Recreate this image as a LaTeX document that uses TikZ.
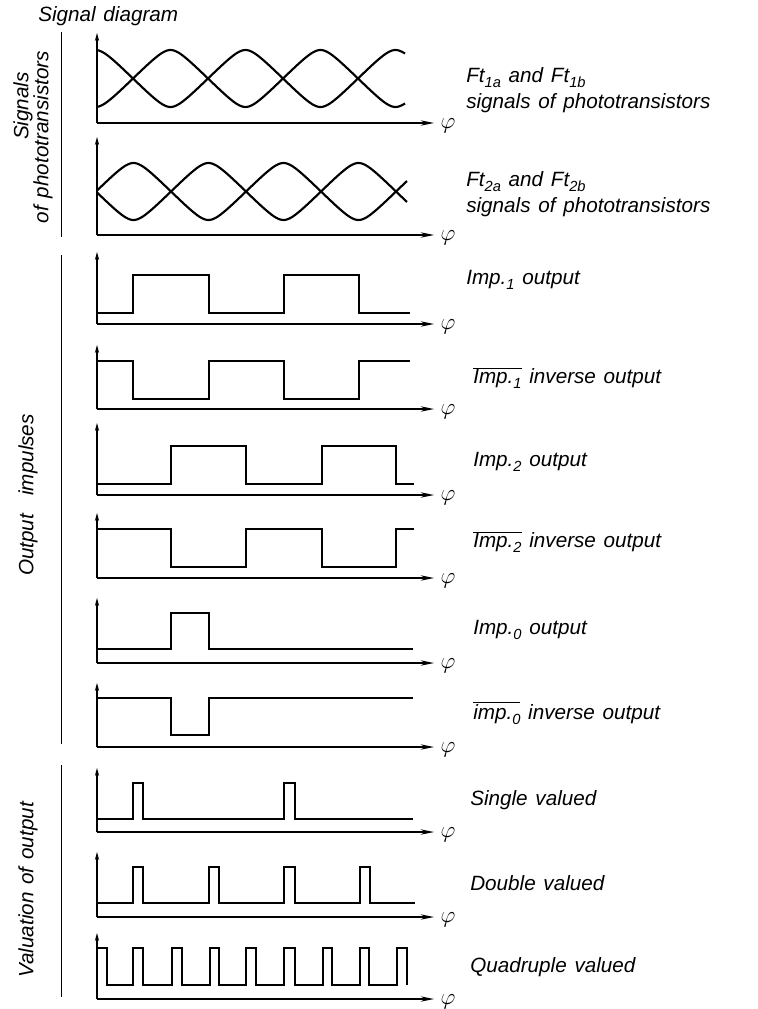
\documentclass[tikz,border=0pt]{standalone}
\usepackage{fontspec}
\setmainfont{Liberation Sans}[WordSpace=1.35]
\usetikzlibrary{arrows.meta}
\newcommand\lo[1]{\raisebox{-0.45ex}{\fontsize{11}{11}\selectfont #1}}
\newcommand\ovl[1]{\ensuremath{\overline{\mbox{#1}}}}
\begin{document}
\begin{tikzpicture}[x=0.75pt,y=-0.75pt,
  axisline/.style={line width=0.8pt},
  xax/.style={axisline,-{Stealth[length=10pt,width=4pt,open]}},
  yax/.style={axisline,-{Stealth[length=6pt,width=3.2pt]}},
  sig/.style={line width=1.6pt},
  bar/.style={line width=1.2pt},
  lbl/.style={anchor=west,inner sep=0pt,font=\fontsize{15.5}{18}\selectfont\itshape},
  vlbl/.style={rotate=90,inner sep=0pt,font=\fontsize{15.5}{18}\selectfont\itshape},
  philbl/.style={inner sep=0pt,font=\fontsize{17}{17}\selectfont}]
\useasboundingbox (0,0) rectangle (757,1009);
% title
\node[anchor=west,inner sep=0pt,font=\fontsize{15.5}{18}\selectfont\itshape] (title) at (38,16) {Signal diagram};
% section bars
\coordinate (b1t) at (61.5,32);  \coordinate (b1b) at (61.5,237);
\coordinate (b2t) at (61.5,255); \coordinate (b2b) at (61.5,744);
\coordinate (b3t) at (61.5,765); \coordinate (b3b) at (61.5,997);
\draw[bar] (b1t) -- (b1b);
\draw[bar] (b2t) -- (b2b);
\draw[bar] (b3t) -- (b3b);
\node[vlbl] (vsig) at (23,106) {Signals};
\node[vlbl] (vphot) at (43,137) {of phototransistors};
\node[vlbl] (vout) at (28,495) {Output\enspace\ impulses};
\node[vlbl] (vval) at (28,890) {Valuation of output};
% axes
\foreach \i/\ax/\at in {1/123/33,2/235/137,3/324/252,4/409/345,5/495/423,6/578/513,7/663/598,8/747/683,9/832/768,10/917/852,11/999/933}{
  \coordinate (o\i) at (97,\ax);
  \coordinate (xe\i) at (434,\ax);
  \coordinate (yt\i) at (97,\at);
  \draw[xax] (o\i) -- (xe\i);
  \draw[yax] (o\i) -- (yt\i);
  \node[philbl] (phi\i) at (448,\ax+3) {$\varphi$};
}
% phototransistor signals
\draw[sig] plot[domain=97:405,samples=200,smooth] (\x,{78.5-28.5*asin(0.9*cos(2.4*(\x-95.5)))/asin(0.9)});
\draw[sig] plot[domain=97:405,samples=200,smooth] (\x,{78.5+28.5*asin(0.9*cos(2.4*(\x-95.5)))/asin(0.9)});
\draw[sig] plot[domain=97:407,samples=200,smooth] (\x,{191.5-28.5*asin(0.9*cos(2.4*(\x-133.5)))/asin(0.9)});
\draw[sig] plot[domain=97:407,samples=200,smooth] (\x,{191.5+28.5*asin(0.9*cos(2.4*(\x-133.5)))/asin(0.9)});
% impulses
\draw[sig] (97,313) -| (133,275) -| (209,313) -| (284,275) -| (359,313) -- (410,313);
\draw[sig] (97,361) -| (133,399) -| (209,361) -| (284,399) -| (359,361) -- (410,361);
\draw[sig] (97,484) -| (171,446) -| (246,484) -| (322,446) -| (396,484) -- (414,484);
\draw[sig] (97,529) -| (171,567) -| (246,529) -| (322,567) -| (396,529) -- (414,529);
\draw[sig] (97,649) -| (171,613) -| (209,649) -- (413,649);
\draw[sig] (97,698) -| (171,735) -| (209,698) -- (413,698);
% valuation
\draw[sig] (97,819) -| (133,783) -| (143,819) -| (284,783) -| (295,819) -- (413,819);
\draw[sig] (97,903) -| (133,867) -| (143,903) -| (209,867) -| (219,903) -| (284,867) -| (295,903) -| (360,867) -| (370,903) -- (415,903);
\draw[sig] (97,948) -| (107,985) -| (133,948) -| (143,985) -| (172,948) -| (182,985) -| (210,948) -| (219,985) -| (246,948) -| (256,985) -| (284,948) -| (295,985) -| (323,948) -| (332,985) -| (360,948) -| (369,985) -| (397,948) -| (407,985);
% labels
\node[lbl] (l1a) at (466,78) {Ft\lo{1a} and Ft\lo{1b}};
\node[lbl] (l1b) at (466,103) {signals of phototransistors};
\node[lbl] (l2a) at (466,182) {Ft\lo{2a} and Ft\lo{2b}};
\node[lbl] (l2b) at (466,207) {signals of phototransistors};
\node[lbl] (l3) at (466,280) {Imp.\lo{1} output};
\node[lbl] (l4) at (473,378) {\ovl{Imp.\lo{1}} inverse output};
\node[lbl] (l5) at (473,462) {Imp.\lo{2} output};
\node[lbl] (l6) at (473,542) {\ovl{Imp.\lo{2}} inverse output};
\node[lbl] (l7) at (473,630) {Imp.\lo{0} output};
\node[lbl] (l8) at (473,713) {\ovl{imp.\lo{0}} inverse output};
\node[lbl] (l9) at (470,800) {Single valued};
\node[lbl] (l10) at (470,883) {Double valued};
\node[lbl] (l11) at (470,967) {Quadruple valued};
\end{tikzpicture}
\end{document}
